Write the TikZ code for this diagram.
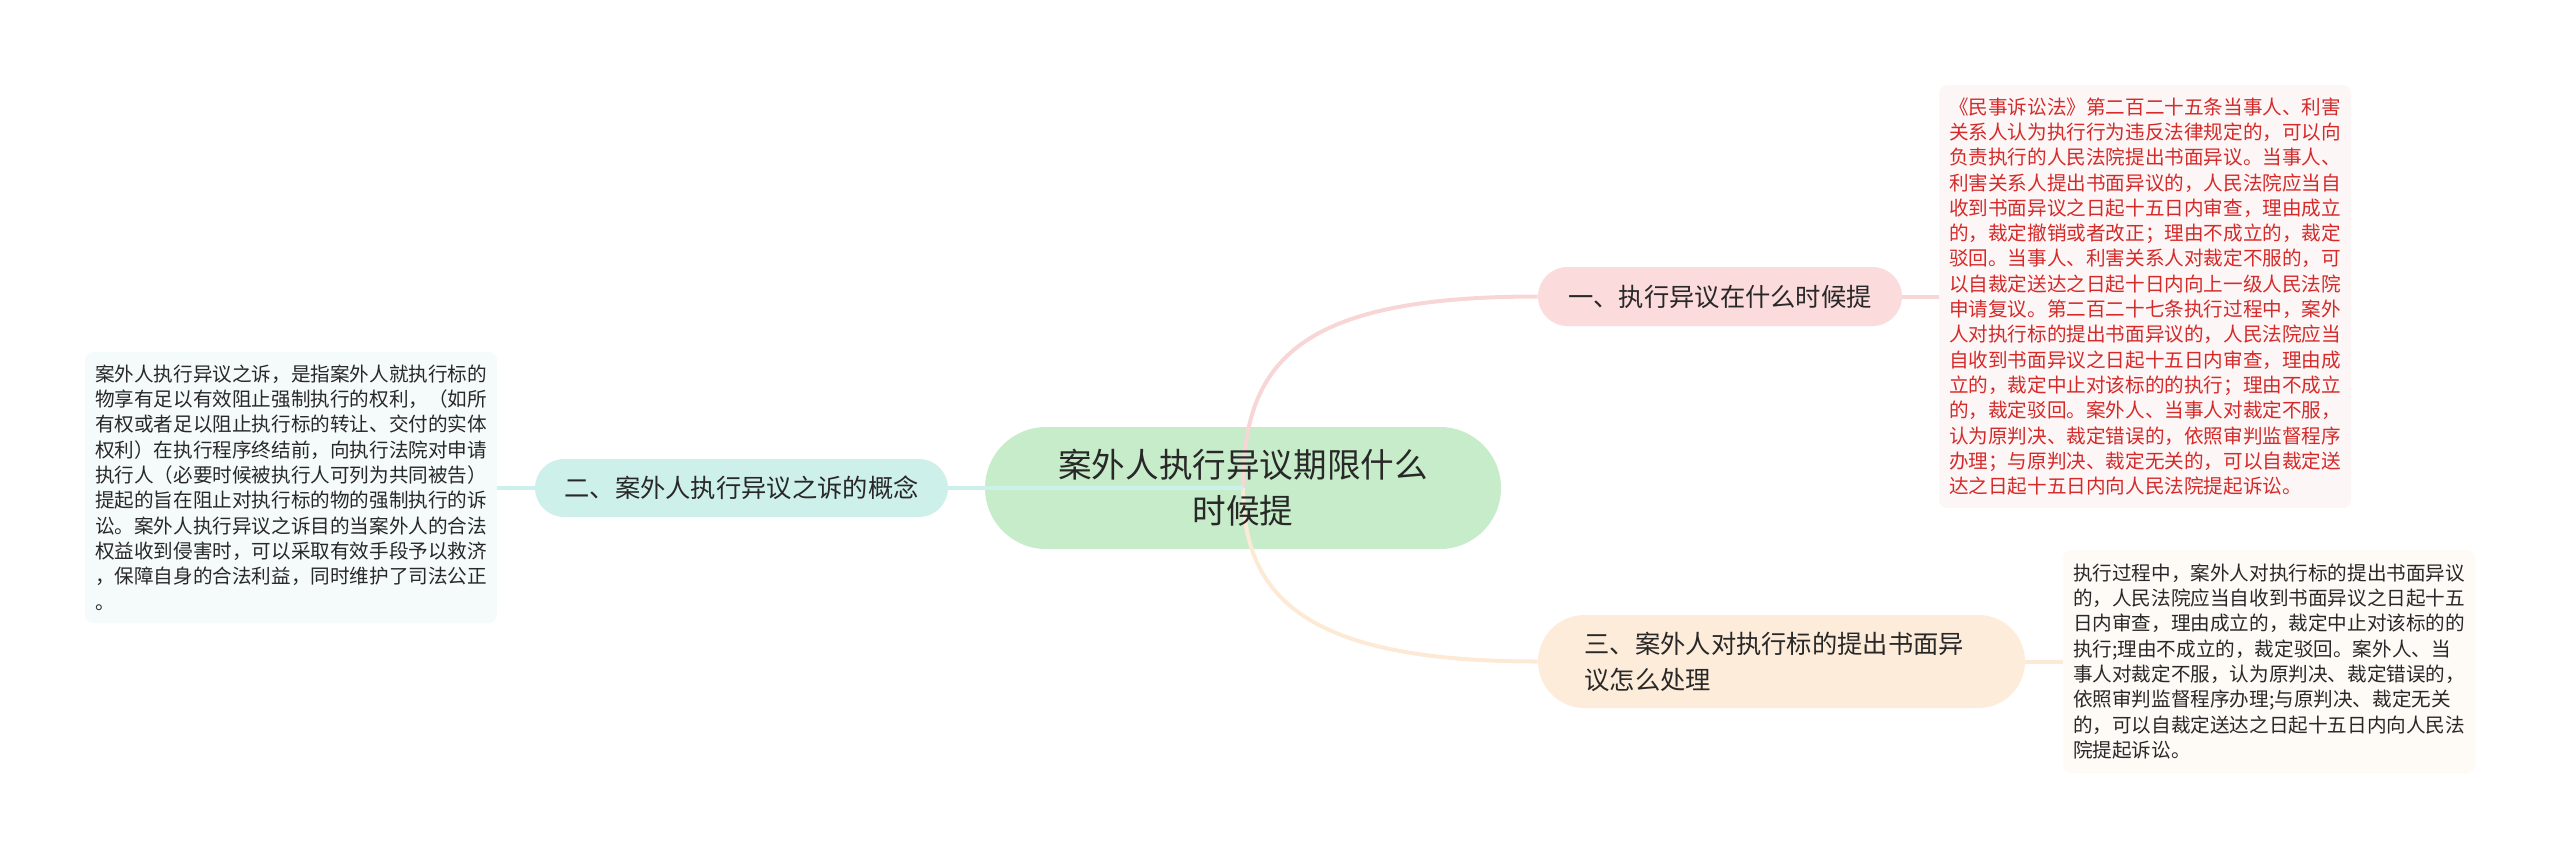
\documentclass[tikz,border=0pt]{standalone}
\usepackage{fontspec}
\setmainfont{Noto Sans CJK SC}
\usepackage{xcolor}
\usetikzlibrary{
    positioning,
    calc
}
\definecolor{hubGreen}{RGB}{199,236,201}
\definecolor{tpPink}{RGB}{251,219,219}
\definecolor{tpCyan}{RGB}{206,240,235}
\definecolor{tpPeach}{RGB}{254,236,218}
\definecolor{lnPink}{RGB}{248,214,214}
\definecolor{lnCyan}{RGB}{204,240,236}
\definecolor{lnPeach}{RGB}{253,234,214}
\definecolor{bgPink}{RGB}{253,246,246}
\definecolor{bgCyan}{RGB}{245,251,251}
\definecolor{bgPeach}{RGB}{254,251,246}
\definecolor{noteRed}{RGB}{212,42,42}
\definecolor{ink}{RGB}{40,40,40}
\tikzset{
  topic/.style  = {inner sep=0pt, text=ink, align=center,
                   font=\fontsize{12.65}{18}\selectfont},
  note/.style   = {inner sep=0pt, rounded corners=4pt, align=left,
                   minimum width=206pt, text=ink,
                   font=\fontsize{9.8}{12.65}\selectfont},
  link/.style   = {line width=2pt}
}

\begin{document}
\begin{tikzpicture}[
    x=0.5pt, y=-0.5pt,
    hubbox/.style={fill=hubGreen, rounded corners=30.5pt,
                   minimum width=258pt, minimum height=61pt, inner sep=0pt},
    hubtext/.style={text=ink, align=center,
                    font=\fontsize{16.8}{23}\selectfont}
]
\useasboundingbox (0,0) rectangle (2560,858);

% notes
\node[note, fill=bgPink, text=noteRed, minimum height=211.5pt]
    (law) at (2145,296.5) {%
《民事诉讼法》第二百二十五条当事人、利害\\
关系人认为执行行为违反法律规定的，可以向\\
负责执行的人民法院提出书面异议。当事人、\\
利害关系人提出书面异议的，人民法院应当自\\
收到书面异议之日起十五日内审查，理由成立\\
的，裁定撤销或者改正；理由不成立的，裁定\\
驳回。当事人、利害关系人对裁定不服的，可\\
以自裁定送达之日起十日内向上一级人民法院\\
申请复议。第二百二十七条执行过程中，案外\\
人对执行标的提出书面异议的，人民法院应当\\
自收到书面异议之日起十五日内审查，理由成\\
立的，裁定中止对该标的的执行；理由不成立\\
的，裁定驳回。案外人、当事人对裁定不服，\\
认为原判决、裁定错误的，依照审判监督程序\\
办理；与原判决、裁定无关的，可以自裁定送\\
达之日起十五日内向人民法院提起诉讼。};
\node[note, fill=bgCyan, minimum height=135.5pt]
    (concept) at (291,487.5) {%
案外人执行异议之诉，是指案外人就执行标的\\
物享有足以有效阻止强制执行的权利，（如所\\
有权或者足以阻止执行标的转让、交付的实体\\
权利）在执行程序终结前，向执行法院对申请\\
执行人（必要时候被执行人可列为共同被告）\\
提起的旨在阻止对执行标的物的强制执行的诉\\
讼。案外人执行异议之诉目的当案外人的合法\\
权益收到侵害时，可以采取有效手段予以救济\\
，保障自身的合法利益，同时维护了司法公正\\
。};
\node[note, fill=bgPeach, minimum height=111.5pt]
    (handle) at (2269,661.5) {%
执行过程中，案外人对执行标的提出书面异议\\
的，人民法院应当自收到书面异议之日起十五\\
日内审查，理由成立的，裁定中止对该标的的\\
执行;理由不成立的，裁定驳回。案外人、当\\
事人对裁定不服，认为原判决、裁定错误的，\\
依照审判监督程序办理;与原判决、裁定无关\\
的，可以自裁定送达之日起十五日内向人民法\\
院提起诉讼。};

% topics
\node[topic, fill=tpPink, rounded corners=14.75pt,
      minimum width=182pt, minimum height=29.5pt]
    (t1) at (1720,296.5) {一、执行异议在什么时候提};
\node[topic, fill=tpCyan, rounded corners=14.5pt,
      minimum width=206.5pt, minimum height=29pt]
    (t2) at (741.5,488) {二、案外人执行异议之诉的概念};
\node[topic, fill=tpPeach, rounded corners=23.25pt, align=left,
      text width=197pt, minimum width=243.5pt, minimum height=46.5pt]
    (t3) at (1781.5,661.5) {三、案外人对执行标的提出书面异\\议怎么处理};

% central topic
\node[hubbox] (hub) at (1243,488) {};

% links
\draw[link, lnPink] (hub.center) .. controls +(0,-128) and +(-238,0)
    .. (t1.west);
\draw[link, lnPeach] (hub.center) .. controls +(0,112) and +(-228,0)
    .. (t3.west);
\draw[link, lnCyan] (hub.center) -- (t2.east);
\draw[link, lnPink] (t1.east) -- (law.west |- t1.east);
\draw[link, lnCyan] (t2.west) -- (concept.east |- t2.west);
\draw[link, lnPeach] (t3.east) -- (handle.west |- t3.east);

\node[hubtext] (title) at (hub.center) {案外人执行异议期限什么\\时候提};

\end{tikzpicture}
\end{document}
